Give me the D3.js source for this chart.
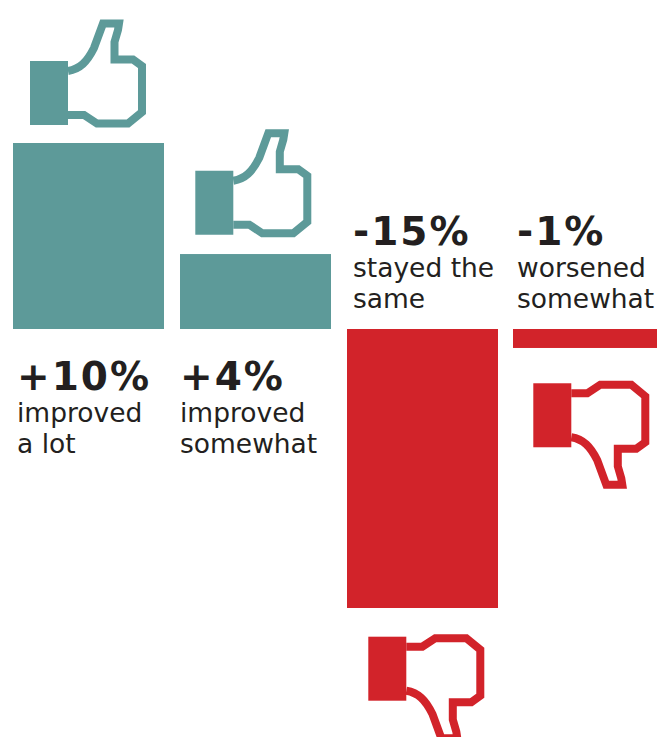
<!DOCTYPE html>
<html>
<head>
<meta charset="utf-8">
<script src="https://cdnjs.cloudflare.com/ajax/libs/d3/7.8.5/d3.min.js"></script>
<style>
  html, body { margin: 0; padding: 0; background: #fff; overflow: hidden; }
  svg { display: block; }
  text { font-family: "DejaVu Sans", Verdana, sans-serif; fill: #231f20; }
  .pct { font-size: 39px; font-weight: bold; letter-spacing: 2px; }
  .lbl { font-size: 26.5px; }
</style>
</head>
<body>
<svg id="chart" width="657" height="737"></svg>
<script>
var categories = ["improved a lot", "improved somewhat", "stayed the same", "worsened somewhat"];
var values = [10, 4.03, -15, -1.02];
var valueLabels = ["+10%", "+4%", "-15%", "-1%"];
var labelLines = [["improved", "a lot"], ["improved", "somewhat"], ["stayed the", "same"], ["worsened", "somewhat"]];

var teal = "#5d9a99";
var red = "#d2232a";

// thumb placement, relative to the bar: nudges
var iconDx = [17, 15.3, 21.3, 20.3];
var iconGap = [18, 19.3, 28.7, 35.3];
var textDx = [4, 0, 6, 4];

var svg = d3.select("#chart");

var x_scale = d3.scaleBand().domain(categories).range([13, 664.4]).paddingInner(0.0947).paddingOuter(0);
var y_scale = d3.scaleLinear().domain([10, -15]).range([143, 608]);
var baseline = y_scale(0);

function colorOf(v) { return v > 0 ? teal : red; }
function barX(i) { return Math.round(x_scale(categories[i])); }

svg.selectAll("rect.bar").data(values).enter().append("rect")
  .attr("class", "bar")
  .attr("x", function(d, i) { return barX(i); })
  .attr("y", function(d) { return Math.min(y_scale(d), baseline); })
  .attr("width", Math.round(x_scale.bandwidth()))
  .attr("height", function(d) { return Math.abs(y_scale(d) - baseline); })
  .attr("fill", colorOf);

// thumb icon, origin at the top left of the cuff, drawn pointing up
var cuffW = 38, cuffH = 64;
var thumbPath = "M38,10 C50,8 57,1 64,-13 L73,-37.5 L89,-37.5 L88,-31 L84.5,-19 L84.5,-1.5 L103,-1.5 L112,5 L112,51 L98,62.5 L67,62.5 L54,54 L38,54";

var icons = svg.selectAll("g.thumb").data(values).enter().append("g")
  .attr("class", "thumb")
  .attr("transform", function(d, i) {
    var x = barX(i) + iconDx[i];
    if (d > 0) {
      return "translate(" + x + "," + (y_scale(d) - iconGap[i] - cuffH) + ")";
    }
    // pointing down: flip the icon about its own cuff
    return "translate(" + x + "," + (y_scale(d) + iconGap[i] + cuffH) + ") scale(1,-1)";
  });

icons.append("rect")
  .attr("width", cuffW)
  .attr("height", cuffH)
  .attr("fill", colorOf);

icons.append("path")
  .attr("d", thumbPath)
  .attr("fill", "none")
  .attr("stroke", colorOf)
  .attr("stroke-width", 8);

// labels sit under the baseline for gains, above it for losses
var labels = svg.selectAll("g.label").data(values).enter().append("g")
  .attr("class", "label")
  .attr("transform", function(d, i) {
    return "translate(" + (barX(i) + textDx[i]) + "," + baseline + ")";
  });

labels.append("text")
  .attr("class", "pct")
  .attr("y", function(d) { return d > 0 ? 61 : -84; })
  .text(function(d, i) { return valueLabels[i]; });

labels.each(function(d, i) {
  d3.select(this).selectAll("text.lbl").data(labelLines[i]).enter().append("text")
    .attr("class", "lbl")
    .attr("y", function(line, j) { return (d > 0 ? 93 : -52) + j * 31; })
    .text(function(line) { return line; });
});
</script>
</body>
</html>
